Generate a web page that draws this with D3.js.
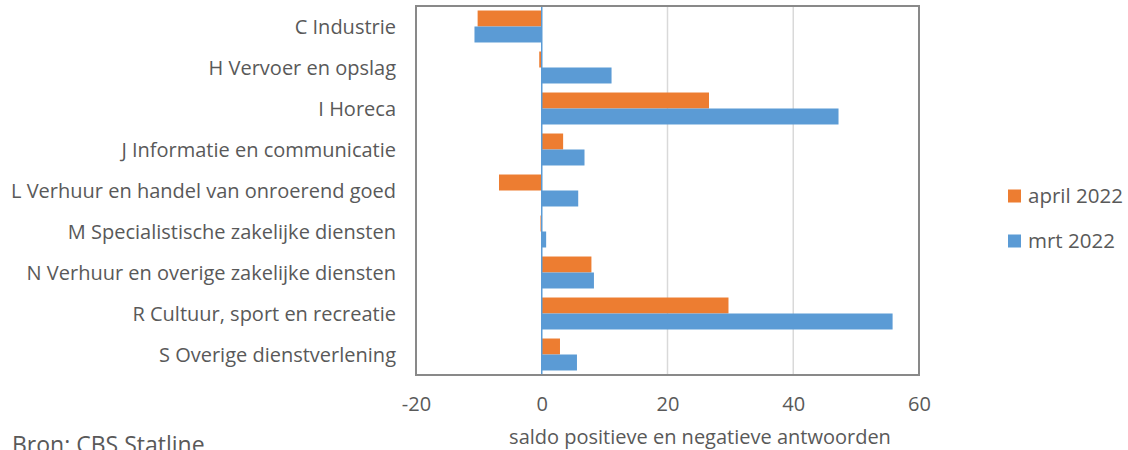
<!DOCTYPE html>
<html>
<head>
<meta charset="utf-8">
<script src="https://cdn.jsdelivr.net/npm/d3@7"></script>
<style>
  body { margin: 0; background: #fff; }
  svg text { font-family: "Open Sans", "Noto Sans", sans-serif; fill: #595959; }
</style>
</head>
<body>
<svg id="chart" width="1128" height="450"></svg>
<script>
// categorieën en reeksen
const categories = [
    'C Industrie',
    'H Vervoer en opslag',
    'I Horeca',
    'J Informatie en communicatie',
    'L Verhuur en handel van onroerend goed',
    'M Specialistische zakelijke diensten',
    'N Verhuur en overige zakelijke diensten',
    'R Cultuur, sport en recreatie',
    'S Overige dienstverlening'
];
const april2022 = [-10.2, -0.4, 26.6, 3.4, -6.8, -0.2, 7.9, 29.7, 2.9];
const mrt2022 = [-10.7, 11.1, 47.2, 6.8, 5.8, 0.7, 8.3, 55.8, 5.6];
const seriesNames = ['april 2022', 'mrt 2022'];
const seriesColors = ['#ed7d31', '#5b9bd5'];
const xTicks = [-20, 0, 20, 40, 60];

const svg = d3.select('#chart');
const plot = { left: 416, right: 919, top: 6, bottom: 375 };

const x = d3.scaleLinear().domain([-20, 60]).range([plot.left, plot.right]);
const y = d3.scaleBand().domain(categories).range([plot.top, plot.bottom]).paddingInner(0.22).paddingOuter(0.11);
const ySub = d3.scaleBand().domain(seriesNames).range([0, y.bandwidth()]);

// rasterlijnen
svg.append('g')
    .selectAll('line')
    .data(xTicks.filter(t => t > -20 && t < 60 && t !== 0))
    .join('line')
    .attr('x1', d => x(d)).attr('x2', d => x(d))
    .attr('y1', plot.top).attr('y2', plot.bottom)
    .attr('stroke', '#d9d9d9').attr('stroke-width', 1.5);

// balken
const rows = categories.map((c, i) => ({ cat: c, values: [april2022[i], mrt2022[i]] }));
const groups = svg.append('g')
    .selectAll('g')
    .data(rows)
    .join('g')
    .attr('transform', d => `translate(0,${y(d.cat)})`);

groups.selectAll('rect')
    .data(d => d.values.map((v, j) => ({ v, name: seriesNames[j], color: seriesColors[j] })))
    .join('rect')
    .attr('x', d => x(Math.min(0, d.v)))
    .attr('width', d => Math.abs(x(d.v) - x(0)))
    .attr('y', d => ySub(d.name))
    .attr('height', ySub.bandwidth())
    .attr('fill', d => d.color);

// nullijn
svg.append('line')
    .attr('x1', x(0)).attr('x2', x(0))
    .attr('y1', plot.top).attr('y2', plot.bottom)
    .attr('stroke', '#5b9bd5').attr('stroke-width', 1.5);

// kader
svg.append('rect')
    .attr('x', plot.left).attr('y', plot.top)
    .attr('width', plot.right - plot.left).attr('height', plot.bottom - plot.top)
    .attr('fill', 'none').attr('stroke', '#898989').attr('stroke-width', 2);

// categorie-labels
svg.append('g')
    .selectAll('text')
    .data(categories)
    .join('text')
    .attr('x', 396)
    .attr('y', d => y(d) + y.bandwidth() / 2)
    .attr('dy', '0.35em')
    .attr('text-anchor', 'end')
    .attr('font-size', 20)
    .text(d => d);

// x-as labels
const xAxis = svg.append('g')
    .attr('transform', `translate(0,${plot.bottom})`)
    .call(d3.axisBottom(x).tickValues(xTicks).tickSize(0).tickPadding(22).tickFormat(d => String(d)));
xAxis.select('.domain').remove();
xAxis.selectAll('text').attr('font-size', 20).style('font-family', '"Open Sans", sans-serif').attr('fill', '#595959');

svg.append('text')
    .attr('x', 700).attr('y', 444)
    .attr('text-anchor', 'middle')
    .attr('font-size', 20)
    .text('saldo positieve en negatieve antwoorden');

svg.append('text')
    .attr('x', 12).attr('y', 453)
    .attr('font-size', 23)
    .text('Bron: CBS Statline');

// legenda
const legend = svg.append('g')
    .selectAll('g')
    .data(seriesNames)
    .join('g')
    .attr('transform', (d, i) => `translate(1008,${196 + i * 45})`);
legend.append('rect')
    .attr('x', 0).attr('y', -6.5)
    .attr('width', 13).attr('height', 13)
    .attr('fill', (d, i) => seriesColors[i]);
legend.append('text')
    .attr('x', 20).attr('dy', '0.35em')
    .attr('font-size', 20.5)
    .text(d => d);
</script>
</body>
</html>
